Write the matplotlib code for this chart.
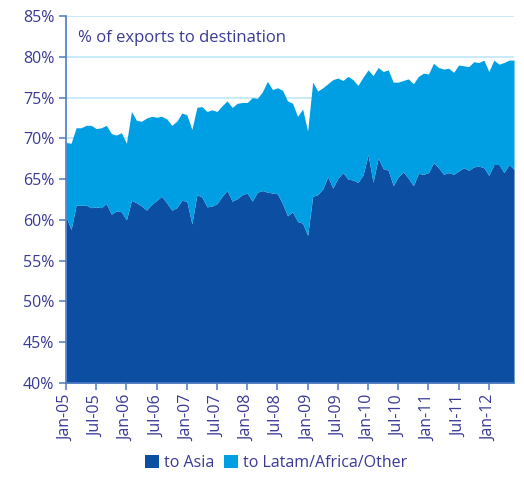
import matplotlib
matplotlib.use('Agg')
import matplotlib.pyplot as plt
import numpy as np

# monthly data, Jan-05 .. Jun-12 (share of exports, %)
asia = [60.4, 58.8, 61.8, 61.8, 61.8, 61.5, 61.6, 61.5, 62.0, 60.7,
        61.1, 61.0, 60.0, 62.4, 62.1, 61.7, 61.2, 61.9, 62.4, 62.9,
        62.1, 61.2, 61.5, 62.4, 62.3, 59.5, 63.1, 62.8, 61.6, 61.7,
        62.0, 62.9, 63.6, 62.3, 62.6, 63.1, 63.3, 62.3, 63.4, 63.6,
        63.4, 63.3, 63.2, 62.0, 60.5, 61.0, 59.8, 59.6, 58.1, 62.9,
        63.1, 63.8, 65.3, 63.9, 65.1, 65.8, 65.0, 64.9, 64.6, 65.5,
        68.0, 64.6, 67.6, 66.3, 66.1, 64.2, 65.3, 65.9, 65.1, 64.2,
        65.7, 65.6, 65.8, 67.0, 66.4, 65.6, 65.8, 65.6, 66.0, 66.4,
        66.1, 66.5, 66.6, 66.4, 65.45, 66.8, 66.8, 65.8, 66.8, 66.2]

# asia + latam/africa/other (top of the stack)
total = [69.5, 69.4, 71.3, 71.3, 71.6, 71.6, 71.2, 71.3, 71.6, 70.6,
         70.4, 70.7, 69.4, 73.3, 72.2, 72.1, 72.5, 72.7, 72.6, 72.7,
         72.4, 71.6, 72.1, 73.1, 72.9, 71.1, 73.8, 73.9, 73.3, 73.5,
         73.3, 74.0, 74.6, 73.8, 74.3, 74.4, 74.4, 75.0, 74.9, 75.7,
         77.0, 76.0, 76.2, 75.9, 74.6, 74.3, 72.7, 73.6, 70.9, 76.9,
         75.8, 76.2, 76.7, 77.2, 77.4, 77.1, 77.6, 77.2, 76.5, 77.5,
         78.4, 77.7, 78.7, 78.2, 78.4, 76.9, 76.9, 77.1, 77.3, 76.7,
         77.6, 78.0, 77.9, 79.2, 78.7, 78.5, 78.6, 78.1, 79.0, 78.9,
         78.8, 79.4, 79.3, 79.6, 78.2, 79.6, 79.1, 79.3, 79.6, 79.6]

tick_labels = ['Jan-05', 'Jul-05', 'Jan-06', 'Jul-06', 'Jan-07', 'Jul-07',
               'Jan-08', 'Jul-08', 'Jan-09', 'Jul-09', 'Jan-10', 'Jul-10',
               'Jan-11', 'Jul-11', 'Jan-12']

dark = '#0b4ea2'
light = '#009fe3'
txt = '#3a3a96'
axcol = '#4d7cc2'

plt.rcParams['font.family'] = ['Open Sans', 'DejaVu Sans']

months = np.arange(len(asia))

fig = plt.figure(figsize=(5.24, 4.87), dpi=100)
ax = fig.add_axes([0.126, 0.2136, 0.855, 0.7534])

ax.fill_between(months, 40, asia, color=dark, linewidth=0, label='to Asia', zorder=2)
ax.fill_between(months, asia, total, color=light, linewidth=0,
                label='to Latam/Africa/Other', zorder=2)

ax.set_xlim(0, len(asia) - 1)
ax.set_ylim(40, 85)
yt = np.arange(40, 86, 5)
ax.set_yticks(yt)
ax.set_yticklabels(['%d%%' % v for v in yt])
ax.set_xticks(np.arange(0, 85, 6))
ax.set_xticklabels(tick_labels, rotation=90)

ax.grid(True, axis='y', color='#bfe6f6', linewidth=1.2, zorder=1)
ax.set_axisbelow(True)

for s in ['top', 'right']:
    ax.spines[s].set_visible(False)
ax.spines['left'].set_color(axcol)
ax.spines['bottom'].set_color(axcol)
ax.spines['left'].set_linewidth(1.2)
ax.spines['bottom'].set_linewidth(1.2)

ax.tick_params(axis='both', colors=axcol, labelcolor=txt, labelsize=11.5,
               length=5, width=1.1)

ax.text(0.027, 0.94, '% of exports to destination', transform=ax.transAxes,
        color=txt, fontsize=12, va='center', ha='left')

fig.legend(loc='center', bbox_to_anchor=(0.527, 0.05), ncol=2, frameon=False,
           fontsize=11.5, handlelength=0.9, handleheight=0.9, handletextpad=0.3,
           columnspacing=0.6, labelcolor=txt)

fig.savefig('out.png', dpi=100)
